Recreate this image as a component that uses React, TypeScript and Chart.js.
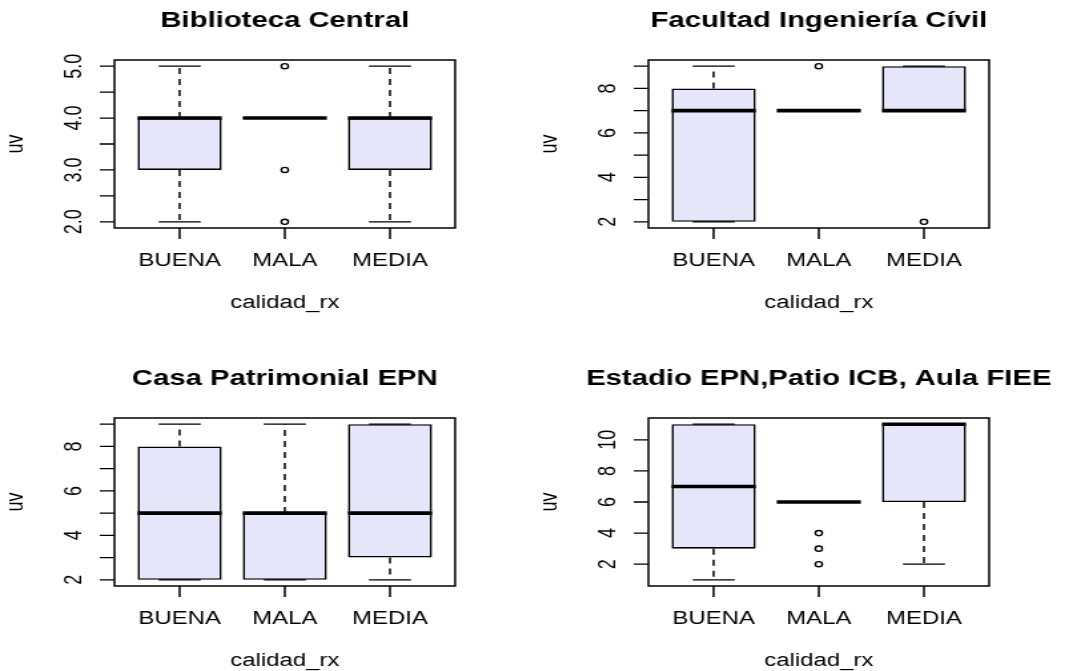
import React, { useEffect, useRef } from 'react';
import { Chart, registerables } from 'chart.js';

Chart.register(...registerables);

// ---- data -------------------------------------------------------------
const categories = ['BUENA', 'MALA', 'MEDIA'];
const xAxisTitle = 'calidad_rx';
const yAxisTitle = 'uv';

// each row: [lower whisker, Q1, median, Q3, upper whisker]
const bibliotecaTitle = 'Biblioteca Central';
const bibliotecaStats = [
  [2, 3, 4, 4, 5],
  [4, 4, 4, 4, 4],
  [2, 3, 4, 4, 5],
];
const bibliotecaOutliers = [[], [5, 3, 2], []];
const bibliotecaTicks = [2, 2.5, 3, 3.5, 4, 4.5, 5];
const bibliotecaTickLabels = ['2.0', '', '3.0', '', '4.0', '', '5.0'];

const facultadTitle = 'Facultad Ingeniería Cívil';
const facultadStats = [
  [2, 2, 7, 8, 9],
  [7, 7, 7, 7, 7],
  [7, 7, 7, 9, 9],
];
const facultadOutliers = [[], [9], [2]];
const facultadTicks = [2, 3, 4, 5, 6, 7, 8, 9];
const facultadTickLabels = ['2', '', '4', '', '6', '', '8', ''];

const casaTitle = 'Casa Patrimonial EPN';
const casaStats = [
  [2, 2, 5, 8, 9],
  [2, 2, 5, 5, 9],
  [2, 3, 5, 9, 9],
];
const casaOutliers = [[], [], []];
const casaTicks = [2, 3, 4, 5, 6, 7, 8, 9];
const casaTickLabels = ['2', '', '4', '', '6', '', '8', ''];

const estadioTitle = 'Estadio EPN,Patio ICB, Aula FIEE';
const estadioStats = [
  [1, 3, 7, 11, 11],
  [6, 6, 6, 6, 6],
  [2, 6, 11, 11, 11],
];
const estadioOutliers = [[], [4, 3, 2], []];
const estadioTicks = [2, 4, 6, 8, 10];
const estadioTickLabels = ['2', '4', '6', '8', '10'];

// ---- look & layout ----------------------------------------------------
const STRETCH = 1.33; // horizontal stretch of each panel canvas
const NATIVE_W = 402;
const PANEL_H = 358;
const PAD = { left: 86, right: 60, top: 60, bottom: 130 };
const FAMILY = '"Liberation Sans", Arial, Helvetica, sans-serif';
const INK = '#000000';
const BOX_FILL = '#E6E6FA';
const BOX_WIDTH = 0.8; // in category units
const STAPLE_WIDTH = 0.4;
const TICK_LEN = 11;

type PanelCfg = {
  title: string;
  stats: number[][];
  outliers: number[][];
  ticks: number[];
  tickLabels: string[];
};

const panels: { cfg: PanelCfg; left: number; top: number }[] = [
  { cfg: { title: bibliotecaTitle, stats: bibliotecaStats, outliers: bibliotecaOutliers, ticks: bibliotecaTicks, tickLabels: bibliotecaTickLabels }, left: 0, top: 0 },
  { cfg: { title: facultadTitle, stats: facultadStats, outliers: facultadOutliers, ticks: facultadTicks, tickLabels: facultadTickLabels }, left: 534, top: 0 },
  { cfg: { title: casaTitle, stats: casaStats, outliers: casaOutliers, ticks: casaTicks, tickLabels: casaTickLabels }, left: 0, top: 358 },
  { cfg: { title: estadioTitle, stats: estadioStats, outliers: estadioOutliers, ticks: estadioTicks, tickLabels: estadioTickLabels }, left: 534, top: 358 },
];

// R-style boxplot decorations: whiskers, staples, medians, frame, axes and texts
function makeDecorPlugin(cfg: PanelCfg) {
  return {
    id: 'boxplotDecor',
    afterDatasetsDraw(chart: any) {
      const { ctx, chartArea: a } = chart;
      const xs = chart.scales.x;
      const ys = chart.scales.y;
      const unit = xs.getPixelForValue(1) - xs.getPixelForValue(0);
      ctx.save();
      ctx.strokeStyle = INK;
      ctx.fillStyle = INK;

      cfg.stats.forEach((s, i) => {
        const cx = xs.getPixelForValue(i + 1);
        const [lo, q1, med, q3, hi] = s;
        // dashed whiskers
        ctx.lineWidth = 1.5;
        ctx.setLineDash([6, 5]);
        ctx.beginPath();
        if (hi > q3) {
          ctx.moveTo(cx, ys.getPixelForValue(q3));
          ctx.lineTo(cx, ys.getPixelForValue(hi));
        }
        if (lo < q1) {
          ctx.moveTo(cx, ys.getPixelForValue(q1));
          ctx.lineTo(cx, ys.getPixelForValue(lo));
        }
        ctx.stroke();
        ctx.setLineDash([]);
        // staples
        const sh = (STAPLE_WIDTH * unit) / 2;
        ctx.lineWidth = 1.3;
        ctx.beginPath();
        [lo, hi].forEach((v) => {
          const py = ys.getPixelForValue(v);
          ctx.moveTo(cx - sh, py);
          ctx.lineTo(cx + sh, py);
        });
        ctx.stroke();
        // median
        const bh = (BOX_WIDTH * unit) / 2;
        const my = ys.getPixelForValue(med);
        ctx.lineWidth = 3.6;
        ctx.lineCap = 'butt';
        ctx.beginPath();
        ctx.moveTo(cx - bh, my);
        ctx.lineTo(cx + bh, my);
        ctx.stroke();
      });

      // plot frame
      ctx.lineWidth = 1.5;
      ctx.strokeRect(a.left, a.top, a.right - a.left, a.bottom - a.top);

      // y axis
      ctx.lineWidth = 1.3;
      ctx.beginPath();
      cfg.ticks.forEach((t) => {
        const py = ys.getPixelForValue(t);
        ctx.moveTo(a.left - TICK_LEN, py);
        ctx.lineTo(a.left, py);
      });
      ctx.stroke();
      ctx.font = `18px ${FAMILY}`;
      ctx.textAlign = 'center';
      ctx.textBaseline = 'alphabetic';
      cfg.ticks.forEach((t, i) => {
        const lab = cfg.tickLabels[i];
        if (!lab) return;
        ctx.save();
        ctx.translate(a.left - 25, ys.getPixelForValue(t));
        ctx.rotate(-Math.PI / 2);
        ctx.fillText(lab, 0, 0);
        ctx.restore();
      });

      // x axis
      ctx.lineWidth = 1.5;
      ctx.beginPath();
      categories.forEach((_, i) => {
        const px = xs.getPixelForValue(i + 1);
        ctx.moveTo(px, a.bottom);
        ctx.lineTo(px, a.bottom + TICK_LEN);
      });
      ctx.stroke();
      categories.forEach((c, i) => {
        ctx.fillText(c, xs.getPixelForValue(i + 1), a.bottom + 38);
      });

      // axis titles
      const midX = (a.left + a.right) / 2;
      const midY = (a.top + a.bottom) / 2;
      ctx.fillText(xAxisTitle, midX, a.bottom + 80);
      ctx.save();
      ctx.translate(16.5, midY);
      ctx.rotate(-Math.PI / 2);
      ctx.fillText(yAxisTitle, 0, 0);
      ctx.restore();

      // main title
      ctx.font = `bold 22px ${FAMILY}`;
      ctx.fillText(cfg.title, midX, a.top - 33);

      ctx.restore();
    },
  };
}

function BoxPanel({ cfg, left, top }: { cfg: PanelCfg; left: number; top: number }) {
  const ref = useRef<HTMLCanvasElement>(null);

  useEffect(() => {
    const canvas = ref.current;
    if (!canvas) return;

    const values = cfg.stats.flat().concat(cfg.outliers.flat());
    const lo = Math.min(...values);
    const hi = Math.max(...values);
    const yExt = 0.04 * (hi - lo);
    const xLo = 0.5;
    const xHi = categories.length + 0.5;
    const xExt = 0.04 * (xHi - xLo);

    const boxData = cfg.stats.map((s, i) => ({ x: i + 1, y: [s[1], s[3]] }));
    const outlierData = cfg.outliers.flatMap((vals, i) => vals.map((v) => ({ x: i + 1, y: v })));

    const chart = new Chart(canvas, {
      type: 'bar',
      data: {
        datasets: [
          {
            type: 'bar',
            data: boxData as any,
            backgroundColor: BOX_FILL,
            borderColor: INK,
            borderWidth: 1.6,
            borderSkipped: false,
            categoryPercentage: 1,
            barPercentage: BOX_WIDTH,
            grouped: false,
          },
          {
            type: 'scatter',
            data: outlierData as any,
            showLine: false,
            pointStyle: 'circle',
            pointRadius: 2.6,
            pointBorderWidth: 1.4,
            pointBorderColor: INK,
            pointBackgroundColor: 'rgba(0,0,0,0)',
          } as any,
        ],
      },
      options: {
        responsive: false,
        animation: false,
        devicePixelRatio: 1,
        events: [],
        layout: { padding: PAD },
        plugins: {
          legend: { display: false },
          title: { display: false },
          tooltip: { enabled: false },
        },
        scales: {
          x: {
            type: 'linear',
            display: false,
            offset: false,
            min: xLo - xExt,
            max: xHi + xExt,
            afterBuildTicks: (scale: any) => {
              scale.ticks = categories.map((_, i) => ({ value: i + 1 }));
            },
          },
          y: {
            type: 'linear',
            display: false,
            min: lo - yExt,
            max: hi + yExt,
          },
        },
      },
      plugins: [makeDecorPlugin(cfg)],
    });

    return () => chart.destroy();
  }, [cfg]);

  return (
    <canvas
      ref={ref}
      width={NATIVE_W}
      height={PANEL_H}
      style={{
        position: 'absolute',
        left,
        top,
        width: NATIVE_W * STRETCH,
        height: PANEL_H,
      }}
    />
  );
}

export default function App() {
  return (
    <div
      style={{
        position: 'absolute',
        left: 0,
        top: 0,
        width: 1069,
        height: 671,
        overflow: 'hidden',
        background: '#ffffff',
      }}
    >
      {panels.map((p, i) => (
        <BoxPanel key={i} cfg={p.cfg} left={p.left} top={p.top} />
      ))}
    </div>
  );
}
